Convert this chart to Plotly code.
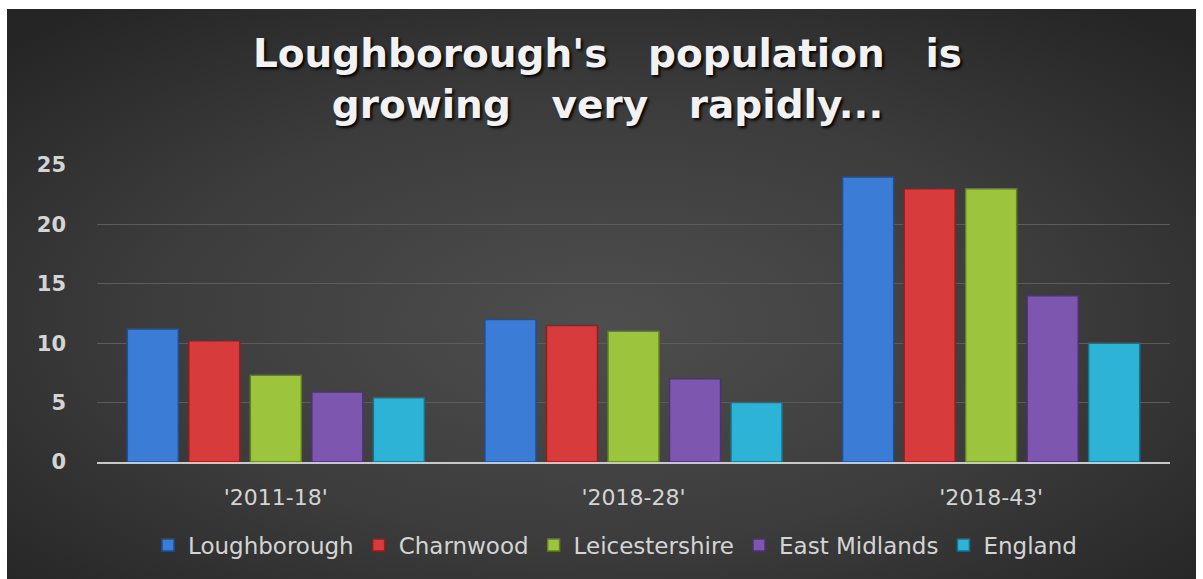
import base64
import plotly.graph_objects as go

categories = ["'2011-18'", "'2018-28'", "'2018-43'"]
series_names = ["Loughborough", "Charnwood", "Leicestershire", "East Midlands", "England"]
loughborough = [11.2, 12, 24]
charnwood = [10.2, 11.5, 23]
leicestershire = [7.3, 11, 23]
east_midlands = [5.9, 7, 14]
england = [5.4, 5, 10]
y_ticks = [0, 5, 10, 15, 20, 25]

values = [loughborough, charnwood, leicestershire, east_midlands, england]
colors = ["#3b7dd6", "#d83b3b", "#9cc43c", "#7d56b0", "#2db3d6"]
edges = ["#1f4f94", "#8f1f1f", "#5f7f20", "#4d3270", "#17728c"]

W, H = 1203, 579
ML, MR, MT, MB = 97, 33, 165, 117
PW, PH = W - ML - MR, H - MT - MB

def px_x(p):
    return (p - ML) / PW

def px_y(p):
    return (H - MB - p) / PH

svg = ("<svg xmlns='http://www.w3.org/2000/svg' width='1189' height='570' preserveAspectRatio='none'>"
       "<defs><radialGradient id='g' cx='50%' cy='55%' r='70%'>"
       "<stop offset='0' stop-color='#4e4e4e'/><stop offset='0.55' stop-color='#3c3c3c'/>"
       "<stop offset='1' stop-color='#252525'/></radialGradient></defs>"
       "<rect width='1189' height='570' fill='url(#g)'/></svg>")
bg = "data:image/svg+xml;base64," + base64.b64encode(svg.encode()).decode()

fig = go.Figure()
for name, vals, c, e in zip(series_names, values, colors, edges):
    fig.add_trace(go.Bar(name=name, x=categories, y=vals,
                         marker=dict(color=c, line=dict(color=e, width=1.5))))

fig.add_layout_image(dict(source=bg, xref="paper", yref="paper",
                          x=px_x(7), y=px_y(9), sizex=px_x(1196) - px_x(7),
                          sizey=px_y(9) - px_y(579), xanchor="left", yanchor="top",
                          sizing="stretch", layer="below"))

fig.update_layout(
    width=W, height=H,
    margin=dict(l=ML, r=MR, t=MT, b=MB),
    paper_bgcolor="white", plot_bgcolor="rgba(0,0,0,0)",
    barmode="group", bargap=0.14, bargroupgap=0.17,
    title=dict(text="Loughborough's&nbsp;&nbsp; population&nbsp;&nbsp; is<br>growing&nbsp;&nbsp; very&nbsp;&nbsp; rapidly...",
               x=0.505, xanchor="center", y=0.884, yanchor="middle",
               font=dict(family="DejaVu Sans", size=39, color="#f2f2f2", weight="bold",
                         shadow="2px 2px 3px #000")),
    yaxis=dict(range=[0, 25], tickvals=y_ticks, showgrid=True, gridcolor="#5c5c5c",
               gridwidth=1, zeroline=False, showline=False, ticks="",
               ticklabelstandoff=30,
               tickfont=dict(family="DejaVu Sans", size=21, color="#d4d4d4", weight="bold")),
    xaxis=dict(showline=True, linecolor="#c8c8c8", linewidth=2, ticks="",
               ticklabelstandoff=15,
               tickfont=dict(family="DejaVu Sans", size=22, color="#d4d4d4")),
    legend=dict(orientation="h", x=px_x(615), xanchor="center", y=px_y(545), yanchor="middle",
                font=dict(family="DejaVu Sans", size=23, color="#d4d4d4"),
                bgcolor="rgba(0,0,0,0)", itemwidth=30, tracegroupgap=0),
    showlegend=True,
)

fig.write_html("out.html")
